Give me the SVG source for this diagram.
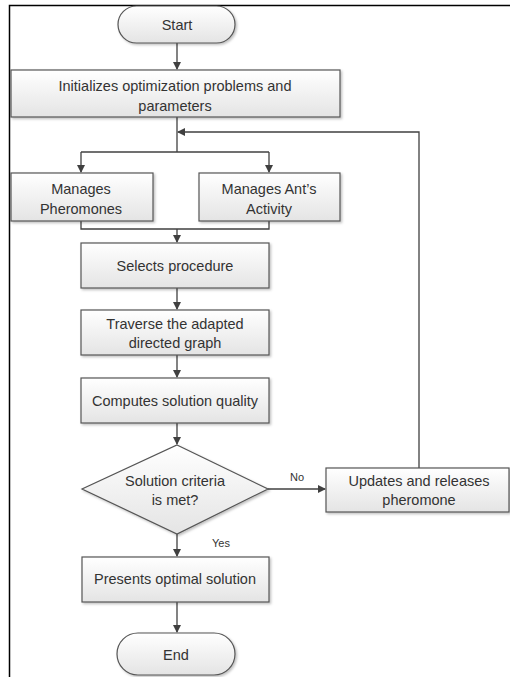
<svg xmlns="http://www.w3.org/2000/svg" width="510" height="677" viewBox="0 0 510 677">
<defs>
<linearGradient id="g" x1="0" y1="0" x2="0" y2="1">
<stop offset="0" stop-color="#ffffff"/>
<stop offset="1" stop-color="#e4e4e4"/>
</linearGradient>
<filter id="sh" x="-10%" y="-10%" width="120%" height="130%">
<feDropShadow dx="1.5" dy="1.5" stdDeviation="1" flood-color="#000" flood-opacity="0.25"/>
</filter>
<marker id="ah" markerWidth="8" markerHeight="8" refX="7" refY="4" orient="auto" markerUnits="userSpaceOnUse">
<path d="M0,0 L8,4 L0,8 Z" fill="#404040"/>
</marker>
</defs>
<style>
.n{fill:url(#g);stroke:#555;stroke-width:1.2;filter:url(#sh)}
.t{font-family:"Liberation Sans",Arial,sans-serif;font-size:14.5px;fill:#333;text-anchor:middle}
.s{font-family:"Liberation Sans",Arial,sans-serif;font-size:11px;fill:#333;text-anchor:middle}
.c{fill:none;stroke:#404040;stroke-width:1.3}
</style>
<rect x="0" y="0" width="510" height="677" fill="#fff"/>
<path d="M9.5,677 V5.5 H510" fill="none" stroke="#000" stroke-width="1.5"/>

<g id="connectors">
<path class="c" d="M177,43 V69" marker-end="url(#ah)"/>
<path class="c" d="M177,117 V152"/>
<path class="c" d="M81,152 H269"/>
<path class="c" d="M81,152 V172" marker-end="url(#ah)"/>
<path class="c" d="M269,152 V172" marker-end="url(#ah)"/>
<path class="c" d="M419,468 V132 H178" marker-end="url(#ah)"/>
<path class="c" d="M81,221 V229 H269 V221"/>
<path class="c" d="M177,229 V242" marker-end="url(#ah)"/>
<path class="c" d="M177,288 V309" marker-end="url(#ah)"/>
<path class="c" d="M177,355 V377" marker-end="url(#ah)"/>
<path class="c" d="M177,423 V444" marker-end="url(#ah)"/>
<path class="c" d="M268,489 V489 H325" marker-end="url(#ah)"/>
<path class="c" d="M177,534 V556" marker-end="url(#ah)"/>
<path class="c" d="M177,602 V632" marker-end="url(#ah)"/>
<text class="s" x="297" y="481">No</text>
<text class="s" x="221" y="547">Yes</text>
</g>

<g id="start">
<rect class="n" x="118" y="6" width="117" height="37" rx="18.5"/>
<text class="t" x="177" y="30">Start</text>
</g>
<g id="init">
<rect class="n" x="11" y="70" width="329" height="47"/>
<text class="t" x="175" y="91">Initializes optimization problems and</text>
<text class="t" x="175" y="111">parameters</text>
</g>
<g id="pheromones">
<rect class="n" x="11" y="173" width="142" height="48"/>
<text class="t" x="81" y="194">Manages</text>
<text class="t" x="81" y="214">Pheromones</text>
</g>
<g id="ants">
<rect class="n" x="199" y="173" width="141" height="48"/>
<text class="t" x="269" y="194">Manages Ant’s</text>
<text class="t" x="269" y="214">Activity</text>
</g>
<g id="selects">
<rect class="n" x="81" y="243" width="188" height="45"/>
<text class="t" x="175" y="271">Selects procedure</text>
</g>
<g id="traverse">
<rect class="n" x="81" y="310" width="188" height="45"/>
<text class="t" x="175" y="329">Traverse the adapted</text>
<text class="t" x="175" y="348">directed graph</text>
</g>
<g id="computes">
<rect class="n" x="81" y="378" width="188" height="45"/>
<text class="t" x="175" y="406">Computes solution quality</text>
</g>
<g id="decision">
<polygon class="n" points="177,445 268,489 177,534 82,489"/>
<text class="t" x="175" y="486">Solution criteria</text>
<text class="t" x="175" y="505">is met?</text>
</g>
<g id="updates">
<rect class="n" x="326" y="468" width="183" height="44"/>
<text class="t" x="419" y="486">Updates and releases</text>
<text class="t" x="419" y="505">pheromone</text>
</g>
<g id="presents">
<rect class="n" x="82" y="557" width="187" height="45"/>
<text class="t" x="175" y="584">Presents optimal solution</text>
</g>
<g id="end">
<rect class="n" x="117" y="633" width="118" height="42" rx="21"/>
<text class="t" x="176" y="660">End</text>
</g>
</svg>
